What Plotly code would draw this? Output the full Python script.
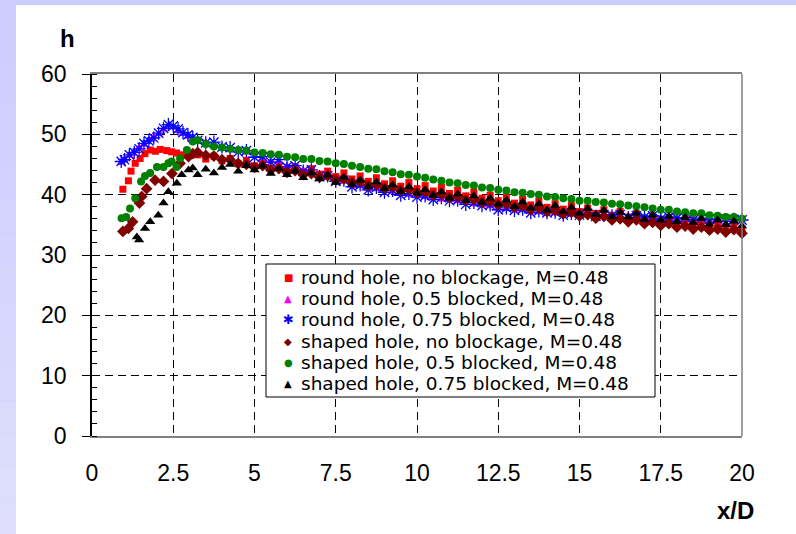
import plotly.graph_objects as go

# ---------------- data ----------------
X_TAIL = [3.25, 3.5, 3.75, 4.0, 4.25, 4.5, 4.75, 5.0, 5.25, 5.5, 5.75, 6.0,
          6.25, 6.5, 6.75, 7.0, 7.25, 7.5, 7.75, 8.0, 8.25, 8.5, 8.75, 9.0,
          9.25, 9.5, 9.75, 10.0, 10.25, 10.5, 10.75, 11.0, 11.25, 11.5, 11.75, 12.0,
          12.25, 12.5, 12.75, 13.0, 13.25, 13.5, 13.75, 14.0, 14.25, 14.5, 14.75, 15.0,
          15.25, 15.5, 15.75, 16.0, 16.25, 16.5, 16.75, 17.0, 17.25, 17.5, 17.75, 18.0,
          18.25, 18.5, 18.75, 19.0, 19.25, 19.5, 19.75, 20.0]

round_none_x = [0.95, 1.12, 1.2, 1.33, 1.48, 1.63, 1.79, 1.95, 2.1, 2.3, 2.45, 2.6, 2.8, 3.0]
round_none_h = [40.9, 42.3, 43.9, 45.2, 46.0, 46.8, 47.4, 47.2, 47.5, 47.3, 47.1, 46.9, 46.6, 46.5,
                46.6, 45.9, 46.4, 45.6, 46.0, 45.1, 45.7, 44.8, 45.3, 44.4, 45.0, 44.1,
                44.6, 43.7, 44.3, 43.4, 43.9, 43.0, 43.6, 42.6, 43.1, 42.2, 42.8, 41.8,
                42.3, 41.4, 42.0, 41.0, 41.5, 40.6, 41.2, 40.2, 40.7, 39.8, 40.4, 39.4,
                39.9, 39.0, 39.6, 38.6, 39.2, 38.3, 38.9, 37.9, 38.5, 37.6, 38.2, 37.2,
                37.8, 36.9, 37.5, 36.6, 37.2, 36.3, 36.9, 36.0, 36.5, 35.7, 36.2, 35.4,
                35.9, 35.1, 35.6, 34.8, 35.3, 34.5, 35.0, 34.3]

round_half_x = [0.9, 1.0, 1.15, 1.3, 1.45, 1.6, 1.75, 1.9, 2.05, 2.2, 2.35, 2.5, 2.65, 2.8, 2.95, 3.1]
round_half_h = [45.3, 45.9, 46.4, 47.2, 47.8, 48.3, 49.1, 49.6, 50.0, 50.8, 51.3, 51.2, 50.6, 50.1, 49.6, 49.3,
                48.8, 48.7, 48.4, 48.0, 47.6, 47.2, 47.0, 46.4, 46.0, 45.6, 45.5, 44.8,
                44.6, 44.1, 43.8, 43.2, 42.9, 42.4, 42.2, 41.5, 41.4, 41.0, 40.9, 40.6,
                40.5, 40.1, 40.0, 39.8, 39.6, 39.4, 39.2, 39.1, 38.9, 38.6, 38.4, 38.3,
                38.1, 37.7, 37.6, 37.5, 37.4, 37.2, 37.1, 37.1, 36.9, 36.8, 36.7, 36.7,
                36.7, 36.6, 36.5, 36.6, 36.5, 36.4, 36.3, 36.4, 36.3, 36.2, 36.1, 36.2,
                36.0, 36.0, 35.9, 36.0, 35.8, 35.8, 35.7, 35.9]

round_3q_x = [0.9, 1.0, 1.15, 1.3, 1.45, 1.6, 1.75, 1.9, 2.05, 2.2, 2.35, 2.5, 2.65, 2.8, 2.95, 3.1]
round_3q_h = [45.5, 45.8, 46.6, 47.0, 47.6, 48.5, 48.9, 49.4, 50.2, 51.0, 51.6, 51.4, 50.9, 50.3, 49.9, 49.5,
              49.0, 48.6, 48.7, 47.9, 47.8, 47.1, 47.3, 46.2, 46.3, 45.4, 45.8, 44.6,
              44.8, 43.9, 44.1, 43.0, 43.1, 42.2, 42.4, 41.3, 41.6, 40.8, 41.2, 40.4,
              40.7, 39.9, 40.2, 39.6, 39.8, 39.2, 39.5, 39.0, 39.1, 38.4, 38.7, 38.2,
              38.3, 37.5, 37.8, 37.4, 37.6, 37.0, 37.3, 37.0, 37.1, 36.6, 36.9, 36.6,
              36.9, 36.4, 36.7, 36.5, 36.7, 36.2, 36.5, 36.3, 36.5, 36.0, 36.3, 36.1,
              36.2, 35.8, 36.1, 35.9, 36.0, 35.6, 35.9, 35.8]

shaped_none_x = [0.95, 1.12, 1.25, 1.46, 1.53, 1.68, 1.94, 2.2, 2.46, 2.71, 2.97, 3.1]
shaped_none_h = [33.9, 34.4, 35.5, 38.6, 39.7, 41.0, 42.4, 42.2, 43.5, 45.2, 46.3, 46.8,
                 47.0, 46.5, 46.4, 45.8, 45.8, 45.2, 45.0, 44.5, 44.8, 44.1, 44.3, 43.7,
                 44.0, 43.3, 43.5, 42.9, 43.1, 42.4, 42.6, 42.0, 42.2, 41.5, 41.7, 41.1,
                 41.3, 40.7, 40.9, 40.3, 40.5, 39.9, 40.1, 39.5, 39.7, 39.1, 39.3, 38.7,
                 38.9, 38.3, 38.5, 37.9, 38.1, 37.5, 37.8, 37.2, 37.4, 36.8, 37.1, 36.5,
                 36.7, 36.1, 36.4, 35.8, 36.0, 35.5, 35.8, 35.2, 35.4, 34.9, 35.2, 34.6,
                 34.8, 34.3, 34.6, 34.1, 34.3, 33.8, 34.2, 33.6]

shaped_half_x = [0.91, 1.05, 1.17, 1.33, 1.51, 1.63, 1.79, 2.0, 2.2, 2.35, 2.45, 2.6, 2.71, 2.92, 3.1]
shaped_half_h = [36.1, 36.3, 37.7, 39.4, 42.2, 43.1, 43.6, 44.6, 44.6, 45.2, 45.5, 44.6, 46.0, 47.4, 48.8,
                 49.0, 48.4, 48.0, 47.8, 47.6, 47.4, 47.3, 47.0, 46.9, 46.7, 46.6, 46.3,
                 46.2, 45.9, 45.9, 45.6, 45.5, 45.2, 45.1, 44.8, 44.6, 44.3, 44.2, 43.9,
                 43.7, 43.4, 43.3, 43.0, 42.8, 42.5, 42.3, 42.0, 41.9, 41.6, 41.5, 41.2,
                 41.1, 40.8, 40.7, 40.4, 40.3, 40.1, 40.0, 39.7, 39.6, 39.4, 39.3, 39.0,
                 39.0, 38.8, 38.7, 38.5, 38.4, 38.2, 38.1, 37.9, 37.7, 37.5, 37.5, 37.2,
                 37.1, 36.9, 36.9, 36.6, 36.5, 36.3, 36.3, 36.0]

shaped_3q_x = [1.38, 1.45, 1.63, 1.79, 2.04, 2.2, 2.35, 2.61, 2.76, 2.97, 3.1]
shaped_3q_h = [33.0, 32.5, 34.4, 35.5, 36.6, 38.6, 40.5, 41.9, 43.3, 44.1, 44.4,
               43.3, 44.2, 43.6, 44.5, 45.0, 43.9, 44.8, 44.1, 44.7, 43.5, 44.3, 43.3,
               43.9, 42.8, 43.6, 42.6, 43.2, 42.0, 42.9, 41.7, 42.4, 41.3, 42.1, 41.0,
               41.6, 40.5, 41.3, 40.2, 40.8, 39.8, 40.5, 39.4, 40.1, 39.0, 39.8, 38.7,
               39.4, 38.4, 39.1, 38.0, 38.8, 37.8, 38.5, 37.4, 38.2, 37.2, 37.9, 36.9,
               37.7, 36.7, 37.4, 36.4, 37.1, 36.3, 36.9, 35.9, 36.6, 35.8, 36.4, 35.5,
               36.2, 35.4, 36.0, 35.1, 35.8, 35.0, 35.6, 34.8]

SERIES_NAMES = ["round hole, no blockage, M=0.48",
                "round hole, 0.5 blocked, M=0.48",
                "round hole, 0.75 blocked, M=0.48",
                "shaped hole, no blockage, M=0.48",
                "shaped hole, 0.5 blocked, M=0.48",
                "shaped hole, 0.75 blocked, M=0.48"]

X_TICKS = [0, 2.5, 5, 7.5, 10, 12.5, 15, 17.5, 20]
X_TICK_TEXT = ["0", "2.5", "5", "7.5", "10", "12.5", "15", "17.5", "20"]
Y_TICKS = [0, 10, 20, 30, 40, 50, 60]

# ---------------- styles ----------------
FONT = "Arial, 'Liberation Sans', sans-serif"
LEG_FONT = "'DejaVu Sans', Arial, sans-serif"
W, H = 796, 534
L, R, T, B = 92, 742, 74, 436   # plot area in pixels


def px(xp):
    return (xp - L) / (R - L)


def py(yp):
    return (B - yp) / (B - T)


styles = [
    dict(symbol="square", size=7, color="#ff0000"),
    dict(symbol="triangle-up", size=8, color="#ff00ff"),
    dict(symbol="asterisk-open", size=11, color="#0000ff", line=dict(color="#0000ff", width=1.3)),
    dict(symbol="diamond", size=9, color="#800000"),
    dict(symbol="circle", size=8, color="#008000"),
    dict(symbol="triangle-up", size=9, color="#000000"),
]

series = [
    (round_none_x + X_TAIL, round_none_h),
    (round_half_x + X_TAIL, round_half_h),
    (round_3q_x + X_TAIL, round_3q_h),
    (shaped_none_x + X_TAIL, shaped_none_h),
    (shaped_half_x + X_TAIL, shaped_half_h),
    (shaped_3q_x + X_TAIL, shaped_3q_h),
]

fig = go.Figure()
for (xs, ys), name, st in zip(series, SERIES_NAMES, styles):
    assert len(xs) == len(ys), name
    fig.add_trace(go.Scatter(x=xs, y=ys, mode="markers", name=name,
                             marker=st, showlegend=False, cliponaxis=False))

shapes = []
# white panel on lavender paper
shapes.append(dict(type="rect", xref="paper", yref="paper", layer="below",
                   x0=px(16), x1=px(W), y0=py(H), y1=py(5),
                   fillcolor="white", line=dict(width=0)))
# lavender gradient on the left band
n = 16
for i in range(n):
    t = i / (n - 1)
    r = int(round(0xcc + (0xde - 0xcc) * t))
    b = int(round(0xff + (0xfc - 0xff) * t))
    col = "rgb(%d,%d,%d)" % (r, r, b)
    shapes.append(dict(type="rect", xref="paper", yref="paper", layer="below",
                       x0=px(0), x1=px(16), y0=py(H * (i + 1) / n), y1=py(H * i / n),
                       fillcolor=col, line=dict(width=0)))
# right border of plot area (grey)
shapes.append(dict(type="line", xref="x domain", yref="y domain", x0=1, x1=1, y0=0, y1=1,
                   line=dict(color="#808080", width=1.5), layer="above"))
# legend box
LEG_L, LEG_R, LEG_T, LEG_B = 266, 655, 264, 397
shapes.append(dict(type="rect", xref="paper", yref="paper", layer="above",
                   x0=px(LEG_L), x1=px(LEG_R), y0=py(LEG_B), y1=py(LEG_T),
                   fillcolor="white", line=dict(color="black", width=1)))

annotations = [
    dict(text="<b>h</b>", x=px(67), y=py(38), xref="paper", yref="paper",
         xanchor="center", yanchor="middle",
         showarrow=False, font=dict(family=FONT, size=24, color="black")),
    dict(text="<b>x/D</b>", x=px(735), y=py(510), xref="paper", yref="paper",
         xanchor="center", yanchor="middle",
         showarrow=False, font=dict(family=FONT, size=24, color="black")),
]

# legend entries (symbol glyph + label), drawn as text
glyphs = [("■", "#ff0000", 10), ("▲", "#ff00ff", 10), ("✱", "#0000ff", 13),
          ("◆", "#800000", 10), ("●", "#008000", 10), ("▲", "#000000", 10)]
row_y = [277.5, 298.7, 319.9, 341.1, 362.3, 383.5]
for (g, c, s), name, yy in zip(glyphs, SERIES_NAMES, row_y):
    annotations.append(dict(text=g, x=px(288), y=py(yy), xref="paper", yref="paper",
                            showarrow=False, xanchor="center", yanchor="middle",
                            font=dict(family="DejaVu Sans", size=s, color=c)))
    annotations.append(dict(text=name, x=px(300), y=py(yy), xref="paper", yref="paper",
                            showarrow=False, xanchor="left", yanchor="middle",
                            borderpad=0,
                            font=dict(family=LEG_FONT, size=18.5, color="black")))

fig.update_layout(
    width=W, height=H, autosize=False,
    margin=dict(l=L, r=W - R, t=T, b=H - B, pad=0),
    paper_bgcolor="#ccccff", plot_bgcolor="white",
    showlegend=False,
    shapes=shapes, annotations=annotations,
    font=dict(family=FONT, size=22, color="black"),
)
fig.update_xaxes(range=[0, 20], tickvals=X_TICKS, ticktext=X_TICK_TEXT,
                 showline=True, linecolor="#808080", linewidth=1.5, mirror=True,
                 showgrid=True, gridcolor="black", gridwidth=1, griddash="8px,5px",
                 ticks="", ticklabelstandoff=16, zeroline=False,
                 tickfont=dict(family=FONT, size=23, color="black"))
fig.update_yaxes(range=[0, 60], tickvals=Y_TICKS,
                 showline=True, linecolor="black", linewidth=1.5, mirror=False,
                 showgrid=True, gridcolor="black", gridwidth=1, griddash="8px,5px",
                 ticks="outside", ticklen=8, tickcolor="black", tickwidth=1,
                 minor=dict(dtick=2, ticks="inside", ticklen=5, tickcolor="black",
                            tickwidth=1, showgrid=False),
                 ticklabelstandoff=11, zeroline=False,
                 tickfont=dict(family=FONT, size=23, color="black"))

fig.write_html("out.html")
